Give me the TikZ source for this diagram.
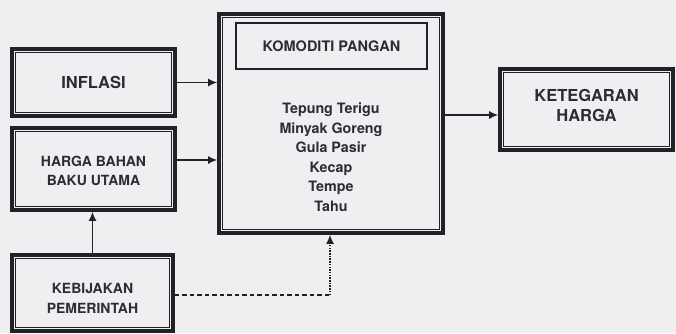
\documentclass[tikz,border=0pt]{standalone}
\usepackage{fontspec}
\setmainfont{TeX Gyre Heros}
\usetikzlibrary{arrows.meta,calc}
\definecolor{bg}{HTML}{EFEEF1}
\definecolor{ink}{HTML}{232126}
\definecolor{txt}{HTML}{2E2C33}
\begin{document}
\begin{tikzpicture}[x=1pt,y=-1pt,
  outerbox/.style={draw=ink,line width=3.8pt,inner sep=0pt,minimum width=#1},
  lbl/.style={text=txt,align=center,inner sep=0pt},
  arr/.style={draw=ink,line width=1.2pt,-{Latex[length=9pt,width=8pt]}},
  dashedarr/.style={draw=ink,line width=1.2pt,dash pattern=on 4.5pt off 3pt},
  dottedarr/.style={draw=ink,line width=1.2pt,dash pattern=on 1.5pt off 1.2pt,-{Latex[length=9pt,width=8pt]}},
  innerline/.style={draw=ink,line width=1pt}]
\fill[bg] (0,0) rectangle (676,333);
\useasboundingbox (0,0) rectangle (676,333);

\node[outerbox=163pt,minimum height=67pt] (inf) at (93.5,82.5) {};
\node[outerbox=163pt,minimum height=82pt] (hrg) at (93.5,169) {};
\node[outerbox=161pt,minimum height=76pt] (keb) at (92.5,293) {};
\node[outerbox=224pt,minimum height=219pt] (kom) at (331,123.5) {};
\node[outerbox=173pt,minimum height=81pt] (ket) at (586.5,109.5) {};
\node[draw=ink,line width=1.5pt,minimum width=191pt,minimum height=46pt,inner sep=0pt] (tit) at (331.5,46) {};

\foreach \n in {inf,hrg,keb,kom,ket}{
  \draw[innerline] ($(\n.south west)+(5.5,-5.5)$) rectangle ($(\n.north east)+(-5.5,5.5)$);
}

\node[lbl,font=\fontsize{16.5}{20}\selectfont\bfseries] at (inf.center) {INFLASI};
\node[lbl,font=\fontsize{14}{19}\selectfont\bfseries] at (93.5,171) {HARGA BAHAN\\BAKU UTAMA};
\node[lbl,font=\fontsize{14}{20}\selectfont\bfseries] at (92.5,298) {KEBIJAKAN\\PEMERINTAH};
\node[lbl,font=\fontsize{14.5}{18}\selectfont\bfseries] at (tit.center) {KOMODITI PANGAN};
\node[lbl,font=\fontsize{14.3}{19.5}\selectfont\bfseries] at (331,157) {Tepung Terigu\\Minyak Goreng\\Gula Pasir\\Kecap\\Tempe\\Tahu};
\node[lbl,font=\fontsize{16.5}{20}\selectfont\bfseries] at (586.5,105) {KETEGARAN\\HARGA};

\draw[arr] (inf.east) -- (inf.east -| kom.west);
\draw[arr] (hrg.east |- 0,160) -- (kom.west |- 0,160);
\draw[arr] (kom.east |- 0,115) -- (ket.west |- 0,115);
\draw[arr] (keb.north) -- (keb.north |- hrg.south);
\coordinate (corner) at (330,295);
\draw[dashedarr] (keb.east |- corner) -- (corner);
\draw[dottedarr] (corner) -- (corner |- kom.south);
\end{tikzpicture}
\end{document}
